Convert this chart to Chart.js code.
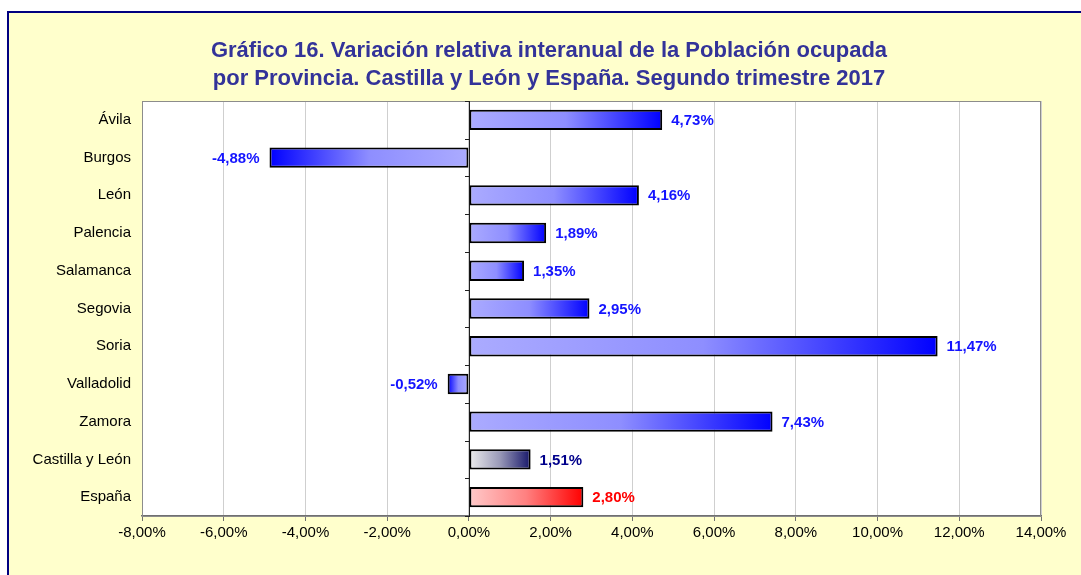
<!DOCTYPE html>
<html>
<head>
<meta charset="utf-8">
<script src="https://cdn.jsdelivr.net/npm/chart.js@4/dist/chart.umd.min.js"></script>
<style>
  body { margin: 0; background: #ffffff; }
  #wrap { width: 1081px; height: 575px; }
</style>
</head>
<body>
<div id="wrap"><canvas id="myChart" width="1081" height="575"></canvas></div>
<script>
var provincias = ["Ávila", "Burgos", "León", "Palencia", "Salamanca", "Segovia", "Soria", "Valladolid", "Zamora", "Castilla y León", "España"];
var variacion = [4.73, -4.88, 4.16, 1.89, 1.35, 2.95, 11.47, -0.52, 7.43, 1.51, 2.80];
var ejeMin = -8;
var ejeMax = 14;
var ejePaso = 2;
var titulo = ["Gráfico 16. Variación relativa interanual de la Población ocupada", "por Provincia. Castilla y León y España. Segundo trimestre 2017"];

var FUENTE = "'Liberation Sans', Arial, sans-serif";

function formato(v){
    var s = Math.abs(v).toFixed(2).replace(".", ",");
    return (v < 0 ? "-" : "") + s + "%";
}

// colores: [cerca del cero, medio, extremo]
function coloresBarra(i){
    if (provincias[i] === "Castilla y León") return ["#eeeeee", "#9a9ab8", "#16166a"];
    if (provincias[i] === "España") return ["#ffcaca", "#ff8080", "#ff0000"];
    return ["#ababff", "#8e8eff", "#0000ff"];
}
function colorEtiqueta(i){
    if (provincias[i] === "Castilla y León") return "#00008b";
    if (provincias[i] === "España") return "#ff0000";
    return "#1414ff";
}

// fondo amarillo con marco, eje del cero, titulo y etiquetas
var fondo = {
    id: "fondo",
    beforeDraw: function(chart){
        var c = chart.ctx;
        c.save();
        c.fillStyle = "#ffffcc";
        c.fillRect(8, 12, 1100, 600);
        c.strokeStyle = "#000080";
        c.lineWidth = 2;
        c.strokeRect(8, 12, 1100, 600);
        var a = chart.chartArea;
        c.fillStyle = "#ffffff";
        c.fillRect(a.left, a.top, a.right - a.left, a.bottom - a.top);
        // titulo
        c.fillStyle = "#333399";
        c.font = "bold 22px " + FUENTE;
        c.textAlign = "center";
        c.textBaseline = "middle";
        c.fillText(titulo[0], 549, 51);
        c.fillText(titulo[1], 549, 79);
        c.restore();
    },
    beforeDatasetsDraw: function(chart){
        var c = chart.ctx;
        var a = chart.chartArea;
        var x0 = chart.scales.x.getPixelForValue(0);
        c.save();
        c.strokeStyle = "#8c8c8c";
        c.lineWidth = 1;
        c.strokeRect(a.left + 0.5, a.top + 0.5, a.right - a.left - 1, a.bottom - a.top);
        // eje vertical en el cero con marcas
        c.strokeStyle = "#202020";
        c.beginPath();
        c.moveTo(Math.round(x0) + 0.5, a.top);
        c.lineTo(Math.round(x0) + 0.5, a.bottom);
        var paso = (a.bottom - a.top) / provincias.length;
        for (var k = 0; k <= provincias.length; k++){
            var yy = Math.round(a.top + k * paso) + 0.5;
            c.moveTo(Math.round(x0) - 4, yy);
            c.lineTo(Math.round(x0) + 1, yy);
        }
        c.stroke();
        c.restore();
    },
    afterDatasetsDraw: function(chart){
        var c = chart.ctx;
        var meta = chart.getDatasetMeta(0);
        c.save();
        c.font = "bold 15px " + FUENTE;
        c.textBaseline = "middle";
        meta.data.forEach(function(bar, i){
            var v = variacion[i];
            c.fillStyle = colorEtiqueta(i);
            if (v >= 0){
                c.textAlign = "left";
                c.fillText(formato(v), bar.x + 9, bar.y + 1);
            } else {
                c.textAlign = "right";
                c.fillText(formato(v), bar.x - 10, bar.y + 1);
            }
        });
        c.restore();
    }
};

function main(){
    var ctx = document.getElementById("myChart");
    new Chart(ctx, {
        type: "bar",
        data: {
            labels: provincias,
            datasets: [{
                label: "Variación",
                data: variacion,
                borderColor: "#000000",
                borderWidth: 2,
                borderSkipped: false,
                categoryPercentage: 1,
                barPercentage: 0.54,
                backgroundColor: function(context){
                    var chart = context.chart;
                    if (!chart.chartArea || !chart.scales.x) return "#8e8eff";
                    var i = context.dataIndex;
                    var xs = chart.scales.x;
                    var x0 = xs.getPixelForValue(0);
                    var x1 = xs.getPixelForValue(variacion[i]);
                    if (Math.abs(x1 - x0) < 1) x1 = x0 + 1;
                    var g = chart.ctx.createLinearGradient(x0, 0, x1, 0);
                    var col = coloresBarra(i);
                    g.addColorStop(0, col[0]);
                    g.addColorStop(0.5, col[1]);
                    g.addColorStop(1, col[2]);
                    return g;
                }
            }]
        },
        options: {
            indexAxis: "y",
            responsive: false,
            animation: false,
            layout: { padding: { left: 20, right: 40, top: 101, bottom: 33 } },
            plugins: {
                legend: { display: false },
                tooltip: { enabled: false },
                title: { display: false }
            },
            scales: {
                x: {
                    min: ejeMin,
                    max: ejeMax,
                    afterFit: function(s){ s.height = 26; },
                    ticks: {
                        stepSize: ejePaso,
                        color: "#000000",
                        font: { family: FUENTE, size: 15 },
                        padding: 3,
                        maxRotation: 0,
                        callback: function(v){ return formato(v); }
                    },
                    grid: {
                        color: "#cfcfcf",
                        tickColor: "#707070",
                        tickLength: 5
                    },
                    border: { color: "#707070", width: 1.5 }
                },
                y: {
                    afterFit: function(s){ s.width = 122; },
                    ticks: {
                        color: "#000000",
                        font: { family: FUENTE, size: 15 },
                        padding: 11
                    },
                    grid: { display: false, drawTicks: false },
                    border: { display: false }
                }
            }
        },
        plugins: [fondo]
    });
}

main();
</script>
</body>
</html>
